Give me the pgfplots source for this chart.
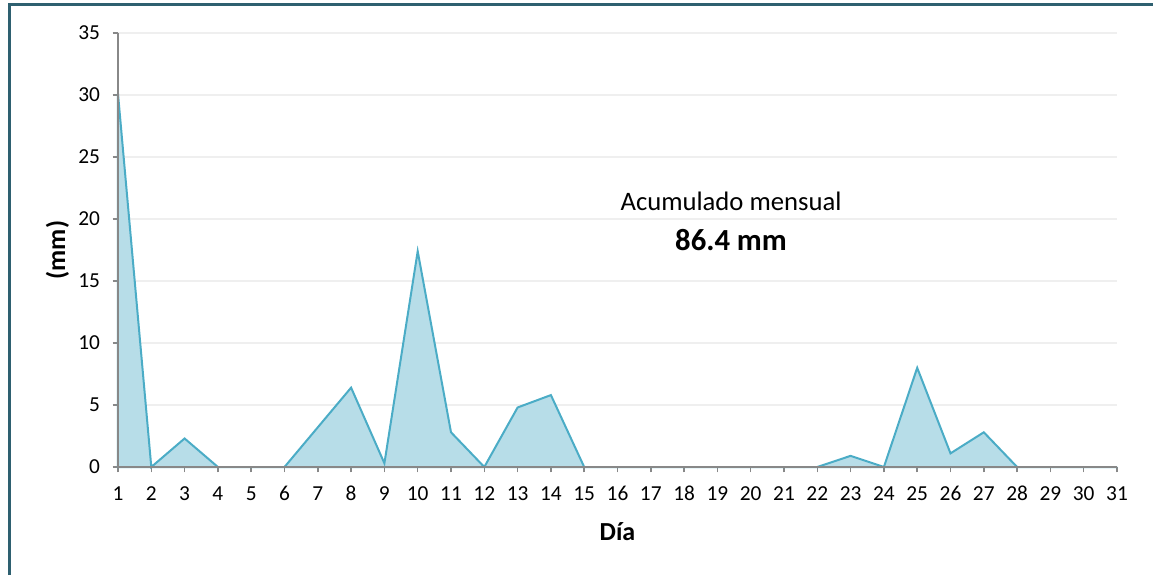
\documentclass[border=0pt]{standalone}
\usepackage{pgfplots}
\pgfplotsset{compat=1.18}
\usepackage{fontspec}
\setmainfont{Carlito}
\definecolor{areafill}{HTML}{B7DDE8}
\definecolor{arealine}{HTML}{4BACC6}
\definecolor{axgray}{HTML}{888888}
\definecolor{gridgray}{HTML}{EFEFEF}
\definecolor{frame}{HTML}{2E6070}
\begin{document}
\begin{tikzpicture}
\useasboundingbox (0pt,0pt) rectangle (864.75pt,431.25pt);
\draw[frame, line width=2.25pt] (6.75pt,0pt) -- (6.75pt,427.5pt) -- (864.75pt,427.5pt);
\begin{axis}[
  at={(88.5pt,81pt)}, anchor=south west,
  scale only axis, width=749.25pt, height=325.5pt,
  xmin=1, xmax=31, ymin=0, ymax=35,
  xtick={1,...,31}, ytick={0,5,...,35},
  axis lines=left, axis line style={-, axgray, line width=1.1pt},
  tick style={axgray, line width=1.1pt},
  tick align=outside, major tick length=4pt,
  ymajorgrids, major grid style={gridgray, line width=1.1pt},
  tick label style={font=\fontsize{16}{18}\selectfont},
  /pgf/number format/assume math mode=true,
  yticklabel style={xshift=-6pt},
  xticklabel style={yshift=-7pt},
  xlabel={\textbf{Día}}, ylabel={\textbf{(mm)}},
  label style={font=\fontsize{19.5}{22}\selectfont},
  xlabel style={at={(axis description cs:0.5,-0.148)}, anchor=center},
  ylabel style={at={(axis description cs:-0.0606,0.5)}, anchor=center},
  clip=false,
]
\addplot[fill=areafill, draw=arealine, line width=1.5pt, line join=miter] table {
x y
1 30.1
2 0
3 2.3
4 0
5 0
6 0
7 3.2
8 6.4
9 0.3
10 17.4
11 2.8
12 0
13 4.8
14 5.8
15 0
16 0
17 0
18 0
19 0
20 0
21 0
22 0
23 0.9
24 0
25 8.0
26 1.1
27 2.8
28 0
29 0
30 0
31 0
} \closedcycle;
\addplot[axgray, line width=1.1pt] coordinates {(1,35) (1,0) (31,0)};
\node[font=\fontsize{20}{24}\selectfont] at (axis cs:19.41,21.45) {Acumulado mensual};
\node[font=\fontsize{23}{27}\selectfont\bfseries] at (axis cs:19.41,18.3) {86.4 mm};
\end{axis}
\end{tikzpicture}
\end{document}
